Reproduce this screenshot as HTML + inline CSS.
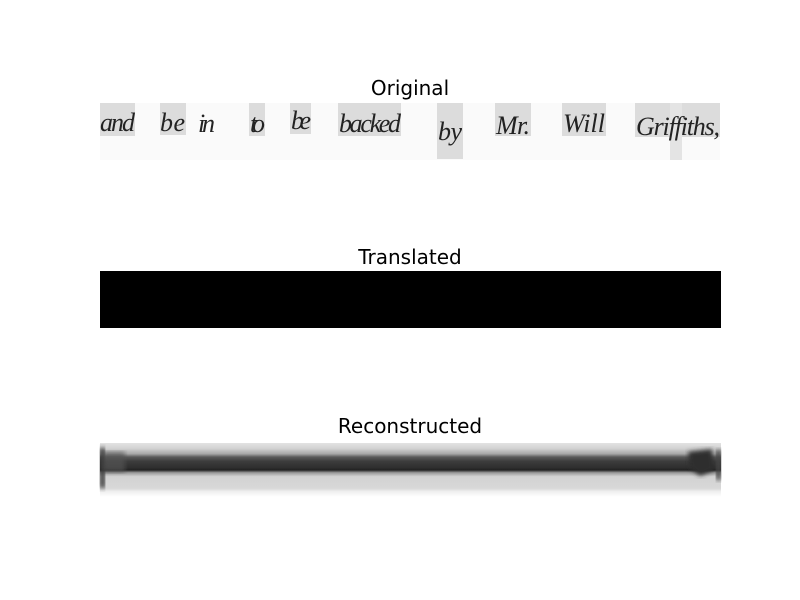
<!DOCTYPE html>
<html>
<head>
<meta charset="utf-8">
<style>
  html,body{margin:0;padding:0;background:#fff;}
  svg{display:block;}
  .title{font-family:"DejaVu Sans","Liberation Sans",sans-serif;font-size:20px;fill:#000;}
  .hw{font-family:"Liberation Serif",serif;font-style:italic;font-size:26px;fill:#222;}
</style>
</head>
<body>
<svg width="800" height="600" viewBox="0 0 800 600">
  <rect width="800" height="600" fill="#fff"/>

  <g>
    <text class="title" x="410" y="95" text-anchor="middle">Original</text>
    <rect x="100" y="103" width="620" height="57" fill="#fafafa"/>
    <g fill="#dcdcdc">
      <rect x="100" y="103" width="35" height="33"/>
      <rect x="160" y="103" width="26" height="32"/>
      <rect x="249" y="103" width="16" height="33"/>
      <rect x="290" y="103" width="21" height="31"/>
      <rect x="338" y="103" width="63" height="33"/>
      <rect x="437" y="103" width="26" height="56"/>
      <rect x="495" y="103" width="36" height="33"/>
      <rect x="562" y="103" width="44" height="33"/>
      <rect x="635" y="103" width="85" height="34"/>
      <rect x="670" y="103" width="12" height="57" fill="#e4e4e4"/>
    </g>
    <g class="hw">
      <text x="100" y="131" textLength="35">and</text>
      <text x="160" y="131" textLength="25">be</text>
      <text x="198" y="132" textLength="17">in</text>
      <text x="250" y="132" textLength="15">to</text>
      <text x="291" y="129" textLength="20">be</text>
      <text x="339" y="132" textLength="62">backed</text>
      <text x="438" y="140" textLength="24">by</text>
      <text x="496" y="134" textLength="34">Mr.</text>
      <text x="563" y="132" textLength="42">Will</text>
      <text x="636" y="135" textLength="84">Griffiths,</text>
    </g>
  </g>

  <g>
    <text class="title" x="410" y="264" text-anchor="middle">Translated</text>
    <rect x="100" y="271" width="621" height="57" fill="#000"/>
  </g>

  <g>
    <text class="title" x="410" y="433" text-anchor="middle">Reconstructed</text>
    <defs>
      <linearGradient id="band" x1="0" y1="0" x2="0" y2="1">
        <stop offset="0" stop-color="#e2e2e2"/>
        <stop offset="0.1" stop-color="#d2d2d2"/>
        <stop offset="0.2" stop-color="#a8a8a8"/>
        <stop offset="0.26" stop-color="#5a5a5a"/>
        <stop offset="0.34" stop-color="#3c3c3c"/>
        <stop offset="0.46" stop-color="#2e2e2e"/>
        <stop offset="0.5" stop-color="#222"/>
        <stop offset="0.55" stop-color="#999"/>
        <stop offset="0.62" stop-color="#d2d2d2"/>
        <stop offset="0.84" stop-color="#d8d8d8"/>
        <stop offset="0.9" stop-color="#f0f0f0"/>
        <stop offset="1" stop-color="#fff"/>
      </linearGradient>
      <filter id="blur"><feGaussianBlur stdDeviation="2.5"/></filter>
    </defs>
    <rect x="100" y="443" width="621" height="54" fill="url(#band)"/>
    <rect x="100" y="448" width="5" height="40" fill="#333" filter="url(#blur)"/>
    <rect x="103" y="452" width="22" height="20" fill="#555" filter="url(#blur)" opacity="0.7"/>
    <path d="M688 452 L712 449 L714 470 L700 476 L690 468 Z" fill="#2e2e2e" filter="url(#blur)"/>
    <rect x="716" y="450" width="5" height="30" fill="#444" filter="url(#blur)"/>
  </g>
</svg>
</body>
</html>
